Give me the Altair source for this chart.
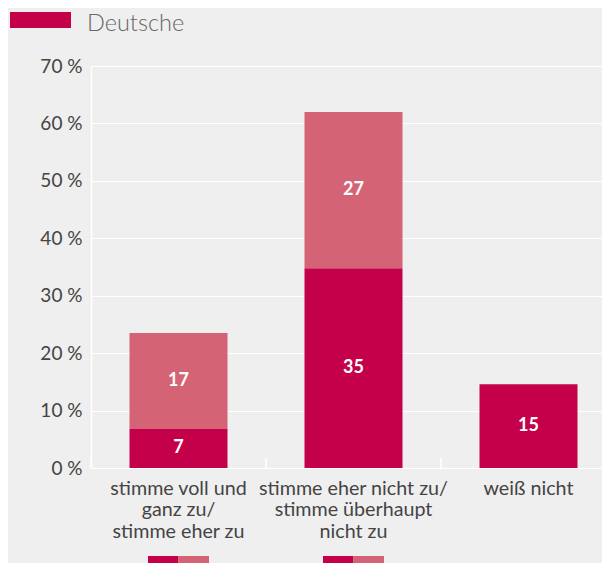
import altair as alt
import pandas as pd

# ---- data ----
categories = [
    "stimme voll und\nganz zu/\nstimme eher zu",
    "stimme eher nicht zu/\nstimme überhaupt\nnicht zu",
    "weiß nicht",
]
dark_values = [6.8, 34.8, 14.6]
light_values = [16.7, 27.2, 0.0]
shades = ["dunkel", "hell"]
shade_colors = ["#c4004a", "#d46376"]
series_name = "Deutsche"
y_ticks = [0, 10, 20, 30, 40, 50, 60, 70]
swatch_categories = categories[:2]

rows = []
for c, d, l in zip(categories, dark_values, light_values):
    if d > 0:
        rows.append({"cat": c, "shade": shades[0], "ord": 0, "value": d})
    if l > 0:
        rows.append({"cat": c, "shade": shades[1], "ord": 1, "value": l})
df = pd.DataFrame(rows)

W, H = 511, 402
STEP = 175
FONT = "Lato"

x_scale = alt.Scale(range=[0, 3 * STEP], paddingInner=0.44, paddingOuter=0.22)

x_main = alt.X(
    "cat:N",
    sort=categories,
    scale=x_scale,
    title=None,
    axis=alt.Axis(
        title=None,
        labelAngle=0,
        labelExpr="split(datum.label, '\\n')",
        labelFont=FONT,
        labelFontSize=19.7,
        labelColor="#444444",
        labelLineHeight=21.5,
        labelPadding=10,
        labelLimit=400,
        labelOverlap=False,
        domain=False,
        ticks=False,
        tickSize=0,
    ),
)
x_plain = alt.X("cat:N", sort=categories, title=None)

y_main = alt.Y(
    "value:Q",
    stack="zero",
    title=None,
    scale=alt.Scale(domain=[0, 70], nice=False),
    axis=alt.Axis(
        title=None,
        values=y_ticks,
        labelExpr="datum.value + ' %'",
        grid=True,
        gridColor="white",
        gridWidth=1,
        domain=True,
        domainColor="white",
        domainWidth=1.5,
        ticks=False,
        labelFont=FONT,
        labelFontSize=19,
        labelColor="#444444",
        labelPadding=9,
    ),
)

# small white separator ticks at the band boundaries
tick_df = pd.DataFrame({"cat": categories})
sep_ticks = alt.Chart(tick_df).mark_rule(color="white", strokeWidth=1.5, xOffset=-STEP / 2).encode(
    x=x_plain, y=alt.value(H - 10), y2=alt.value(H)
)

bars = alt.Chart(df).mark_bar().encode(
    x=x_main,
    y=y_main,
    color=alt.Color("shade:N", scale=alt.Scale(domain=shades, range=shade_colors), legend=None),
    order=alt.Order("ord:Q"),
)

labels = (
    alt.Chart(df)
    .transform_stack(stack="value", groupby=["cat"], as_=["y0", "y1"], sort=[alt.SortField("ord")])
    .transform_calculate(mid="(datum.y0 + datum.y1) / 2")
    .mark_text(color="white", font=FONT, fontWeight="bold", fontSize=18, baseline="middle")
    .encode(
        x=x_plain,
        y=alt.Y("mid:Q", title=None),
        text=alt.Text("value:Q", format=".0f"),
    )
)

legend_df = pd.DataFrame({"series": [series_name], "cat": [categories[0]], "value": [0]})
legend_layer = alt.Chart(legend_df).mark_square(opacity=0, filled=True).encode(
    x=x_plain,
    y=alt.Y("value:Q", title=None),
    color=alt.Color(
        "series:N",
        scale=alt.Scale(domain=[series_name], range=[shade_colors[0]]),
        legend=alt.Legend(
            title=None,
            orient="none",
            legendX=-81,
            legendY=-72.5,
            padding=0,
            symbolType="M-1,-0.393H1V0.131H-1Z",
            symbolSize=3721,
            symbolOpacity=1,
            symbolStrokeWidth=0,
            labelFont=FONT,
            labelFontSize=23.5,
            labelFontWeight=300,
            labelColor="#666666",
            labelOffset=16,
        ),
    ),
)

sw_df = pd.DataFrame({"cat": swatch_categories})
sw_dark = alt.Chart(sw_df).mark_bar(width=30.5, xOffset=-15.25, color=shade_colors[0]).encode(
    x=x_plain, y=alt.value(H + 88), y2=alt.value(H + 120)
)
sw_light = alt.Chart(sw_df).mark_bar(width=30.5, xOffset=15.25, color=shade_colors[1]).encode(
    x=x_plain, y=alt.value(H + 88), y2=alt.value(H + 120)
)

chart = (
    alt.layer(bars, sep_ticks, labels, legend_layer, sw_dark, sw_light)
    .resolve_scale(color="independent")
    .properties(
        width=W,
        height=H,
        padding={"left": 83, "top": 58, "right": 0, "bottom": 95},
        autosize=alt.AutoSizeParams(type="none"),
        background="#efefef",
    )
    .configure_view(strokeWidth=0)
)

chart.save("out.html", embed_options={"renderer": "svg", "actions": False})
